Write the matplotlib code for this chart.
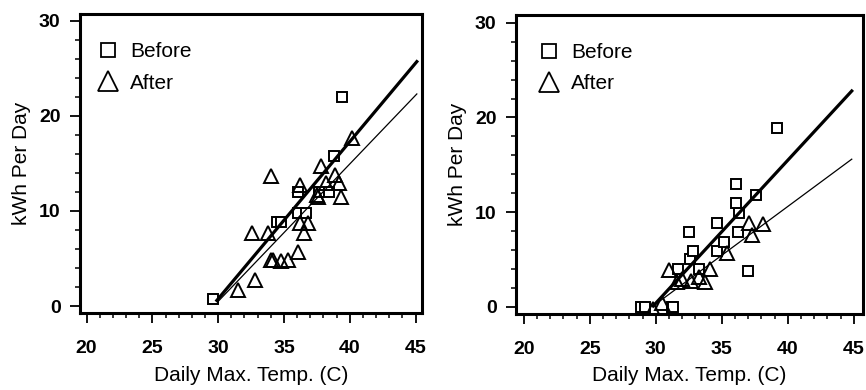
import numpy as np
import matplotlib
matplotlib.use("Agg")
import matplotlib.pyplot as plt
from matplotlib.ticker import MultipleLocator
from matplotlib.lines import Line2D

plt.rcParams['font.family'] = ['Liberation Sans', 'DejaVu Sans']

# Left panel data
left_before_x = [29.6, 34.5, 34.8, 36.1, 36.7, 36.1, 37.7, 38.4, 38.8, 39.4]
left_before_y = [0.8, 8.8, 8.8, 9.8, 9.8, 12.0, 12.0, 12.0, 15.8, 22.0]
left_after_x = [31.5, 32.8, 34.0, 34.2, 34.8, 35.3, 36.1, 32.6, 33.8, 36.5, 36.2,
                36.8, 34.0, 36.2, 37.5, 37.6, 38.2, 38.9, 39.2, 39.3, 37.8, 40.2]
left_after_y = [1.7, 2.7, 4.8, 4.8, 4.7, 4.8, 5.7, 7.7, 7.7, 7.7, 8.7,
                8.7, 13.7, 12.7, 11.7, 11.5, 12.9, 13.8, 12.9, 11.5, 14.7, 17.7]
left_fit_before = ([29.9, 45.1], [0.6, 25.7])
left_fit_after = ([30.0, 45.1], [0.5, 22.3])

# Right panel data
right_before_x = [28.9, 29.2, 31.2, 31.3, 31.7, 33.3, 37.0, 32.6, 32.8, 34.6,
                  35.2, 32.5, 36.2, 34.6, 36.3, 36.1, 37.6, 36.1, 39.2]
right_before_y = [0.0, 0.0, 0.0, 0.0, 4.0, 4.0, 3.8, 5.1, 5.9, 5.9,
                  6.9, 7.9, 7.9, 8.9, 9.9, 11.0, 11.8, 13.0, 18.9]
right_after_x = [29.8, 30.5, 31.0, 31.6, 32.0, 32.7, 33.3, 33.7, 34.1, 35.4,
                 37.3, 37.1, 38.1]
right_after_y = [-0.2, 0.4, 3.9, 2.6, 3.0, 2.7, 3.2, 2.6, 4.0, 5.7,
                 7.6, 8.9, 8.8]
right_fit_before = ([29.8, 44.85], [0.1, 22.8])
right_fit_after = ([29.8, 44.85], [0.1, 15.6])

fig = plt.figure(figsize=(8.66, 3.9), dpi=100)
ax1 = fig.add_axes([0.0924, 0.197, 0.395, 0.767])
ax2 = fig.add_axes([0.5958, 0.195, 0.4007, 0.767])

panels = [
    (ax1, left_before_x, left_before_y, left_after_x, left_after_y,
     left_fit_before, left_fit_after, (19.5, 45.5), (-0.74, 30.7), 0.05),
    (ax2, right_before_x, right_before_y, right_after_x, right_after_y,
     right_fit_before, right_fit_after, (19.4, 45.7), (-0.74, 30.84), 0.065),
]

for ax, bx, by, axx, ay, fb, fa, xl, yl, lgx in panels:
    ax.plot(fb[0], fb[1], color='black', lw=2.3, zorder=3)
    ax.plot(fa[0], fa[1], color='black', lw=0.9, zorder=3)
    ax.plot(bx, by, ls='none', marker='s', ms=6.5, mfc='white', mec='black',
            mew=1.4, zorder=2)
    ax.plot(axx, ay, ls='none', marker='^', ms=9.5, mfc='none', mec='black',
            mew=1.4, zorder=2)
    ax.set_xlim(*xl)
    ax.set_ylim(*yl)
    ax.xaxis.set_major_locator(MultipleLocator(5))
    ax.xaxis.set_minor_locator(MultipleLocator(1))
    ax.yaxis.set_major_locator(MultipleLocator(10))
    ax.yaxis.set_minor_locator(MultipleLocator(2))
    ax.tick_params(which='major', direction='out', length=7, width=1.3,
                   labelsize=14)
    ax.tick_params(axis='x', which='major', pad=12.5)
    ax.tick_params(axis='y', which='major', pad=7)
    ax.tick_params(which='minor', direction='out', length=3.5, width=1.1)
    for lab in ax.get_xticklabels() + ax.get_yticklabels():
        lab.set_fontweight('bold')
    for s in ax.spines.values():
        s.set_linewidth(2.2)
    ax.set_xlabel('Daily Max. Temp. (C)', fontsize=15, labelpad=6)
    ax.set_ylabel('kWh Per Day', fontsize=15, labelpad=6)
    handles = [
        Line2D([], [], ls='none', marker='s', ms=10.5, mfc='white', mec='black', mew=1.3),
        Line2D([], [], ls='none', marker='^', ms=14, mfc='none', mec='black', mew=1.3),
    ]
    ax.legend(handles, ['Before', 'After'], loc='upper left', frameon=False,
              bbox_to_anchor=(lgx, 0.905), borderaxespad=0, borderpad=0,
              fontsize=15, handlelength=1.0, handletextpad=0.58,
              labelspacing=0.58)

fig.savefig('out.png', dpi=100)
